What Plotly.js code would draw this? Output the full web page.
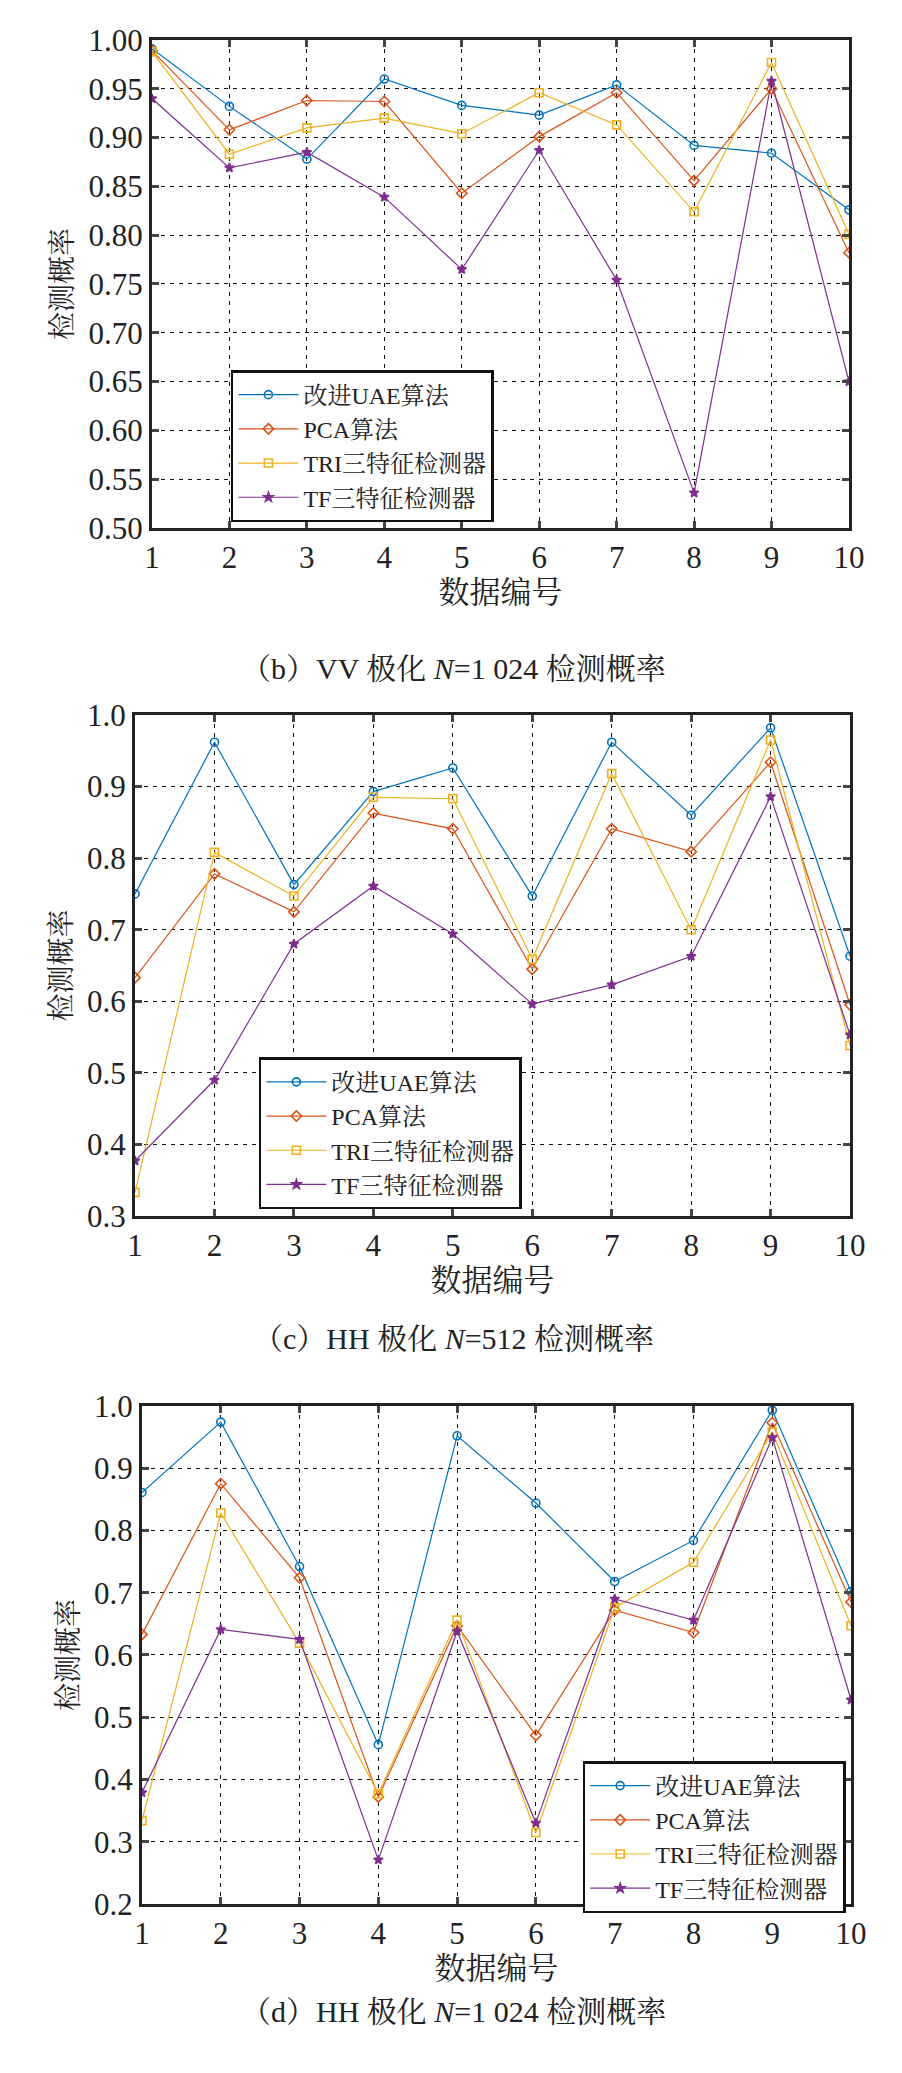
<!DOCTYPE html>
<html>
<head>
<meta charset="utf-8">
<script src="https://cdn.plot.ly/plotly-3.0.1.min.js"></script>
<style>body{margin:0;background:#fff}</style>
</head>
<body>
<div id="chart" style="width:902px;height:2073px"></div>
<script>
// data index (x axis)
var ids = [1, 2, 3, 4, 5, 6, 7, 8, 9, 10]
var names = ["改进UAE算法", "PCA算法", "TRI三特征检测器", "TF三特征检测器"]

// (b) VV N=1024
var vvUAE = [0.991, 0.932, 0.878, 0.960, 0.933, 0.923, 0.954, 0.892, 0.884, 0.826]
var vvPCA = [0.989, 0.908, 0.938, 0.937, 0.843, 0.901, 0.946, 0.856, 0.950, 0.782]
var vvTRI = [0.988, 0.883, 0.910, 0.920, 0.904, 0.946, 0.913, 0.824, 0.977, 0.801]
var vvTF  = [0.940, 0.869, 0.885, 0.839, 0.765, 0.887, 0.754, 0.536, 0.958, 0.650]

// (c) HH N=512
var hh512UAE = [0.750, 0.962, 0.763, 0.893, 0.926, 0.747, 0.962, 0.860, 0.982, 0.663]
var hh512PCA = [0.633, 0.778, 0.725, 0.863, 0.841, 0.645, 0.841, 0.809, 0.934, 0.595]
var hh512TRI = [0.333, 0.808, 0.747, 0.885, 0.883, 0.659, 0.918, 0.700, 0.965, 0.538]
var hh512TF  = [0.377, 0.490, 0.680, 0.761, 0.694, 0.596, 0.623, 0.663, 0.886, 0.553]

// (d) HH N=1024
var hhUAE = [0.861, 0.974, 0.742, 0.456, 0.952, 0.844, 0.718, 0.784, 0.993, 0.702]
var hhPCA = [0.633, 0.875, 0.724, 0.372, 0.647, 0.471, 0.672, 0.636, 0.973, 0.685]
var hhTRI = [0.334, 0.828, 0.619, 0.377, 0.656, 0.315, 0.676, 0.749, 0.958, 0.647]
var hhTF  = [0.379, 0.641, 0.625, 0.271, 0.638, 0.330, 0.690, 0.656, 0.949, 0.528]

var colors = ["#0072BD", "#D95319", "#EDB120", "#7E2F8E"]
var symbols = ["circle-open", "diamond-open", "square-open", "star"]
var FONT = "Liberation Serif, Noto Serif CJK SC, Noto Sans CJK SC, serif"

var traces = []
function addSet(sets, n) {
  sets.forEach((ys, i) => {
    traces.push({
      x: ids, y: ys, name: names[i], type: 'scatter', mode: 'lines+markers',
      xaxis: n == 1 ? 'x' : 'x' + n, yaxis: n == 1 ? 'y' : 'y' + n,
      legend: n == 1 ? 'legend' : 'legend' + n,
      line: {color: colors[i], width: 1.2},
      marker: {symbol: symbols[i], size: i == 3 ? 7 : 8, color: colors[i], line: {color: colors[i], width: 1.6}}
    })
  })
}
addSet([vvUAE, vvPCA, vvTRI, vvTF], 1)
addSet([hh512UAE, hh512PCA, hh512TRI, hh512TF], 2)
addSet([hhUAE, hhPCA, hhTRI, hhTF], 3)

function xax(dom, anchor) {
  return {
    domain: dom, anchor: anchor, range: [1, 10], tickvals: ids, ticks: 'inside', ticklen: 7, tickwidth: 2.5,
    showline: true, linecolor: '#222', linewidth: 3, mirror: 'ticks',
    showgrid: true, gridcolor: '#111', griddash: '4px,5px', gridwidth: 1.4, zeroline: false,
    tickfont: {family: FONT, size: 31, color: '#222'},
    title: {text: '数据编号', font: {family: FONT, size: 31, color: '#222'}, standoff: 4}
  }
}
function yax(dom, anchor, range, dtick, fmt) {
  return {
    domain: dom, anchor: anchor, range: range, dtick: dtick, tickformat: fmt, ticks: 'inside', ticklen: 7, tickwidth: 2.5,
    showline: true, linecolor: '#222', linewidth: 3, mirror: 'ticks',
    showgrid: true, gridcolor: '#111', griddash: '4px,5px', gridwidth: 1.4, zeroline: false,
    tickfont: {family: FONT, size: 31, color: '#222'},
    title: {text: '检测概率', font: {family: FONT, size: 28, color: '#222'}, standoff: 8}
  }
}
function leg(x, y) {
  return {x: x, y: y, xanchor: 'left', yanchor: 'top', bgcolor: '#fff', bordercolor: '#111', borderwidth: 2.5,
    font: {family: FONT, size: 24, color: '#222'}, tracegroupgap: 0, itemwidth: 60}
}

var layout = {
  width: 902, height: 2073, margin: {l: 0, r: 0, t: 0, b: 0},
  paper_bgcolor: '#fff', plot_bgcolor: '#fff',
  xaxis: xax([0.1685, 0.9412], 'y'),
  yaxis: yax([0.7453, 0.9807], 'x', [0.5, 1.0], 0.05, '.2f'),
  xaxis2: xax([0.1497, 0.9424], 'y2'),
  yaxis2: yax([0.4134, 0.6551], 'x2', [0.3, 1.0], 0.1, '.1f'),
  xaxis3: xax([0.1574, 0.9435], 'y3'),
  yaxis3: yax([0.0815, 0.3218], 'x3', [0.2, 1.0], 0.1, '.1f'),
  legend: leg(0.256, 0.8215),
  legend2: leg(0.287, 0.490),
  legend3: leg(0.646, 0.1505),
  annotations: [
    {text: '（b）VV 极化 <i>N</i>=1 024 检测概率', x: 0.503, y: 1 - 650 / 2073},
    {text: '（c）HH 极化 <i>N</i>=512 检测概率', x: 0.503, y: 1 - 1338 / 2073},
    {text: '（d）HH 极化 <i>N</i>=1 024 检测概率', x: 0.503, y: 1 - 2030 / 2073}
  ].map(a => Object.assign(a, {xref: 'paper', yref: 'paper', showarrow: false, font: {family: FONT, size: 30, color: '#222'}}))
}

Plotly.newPlot('chart', traces, layout, {displayModeBar: false})
</script>
</body>
</html>
